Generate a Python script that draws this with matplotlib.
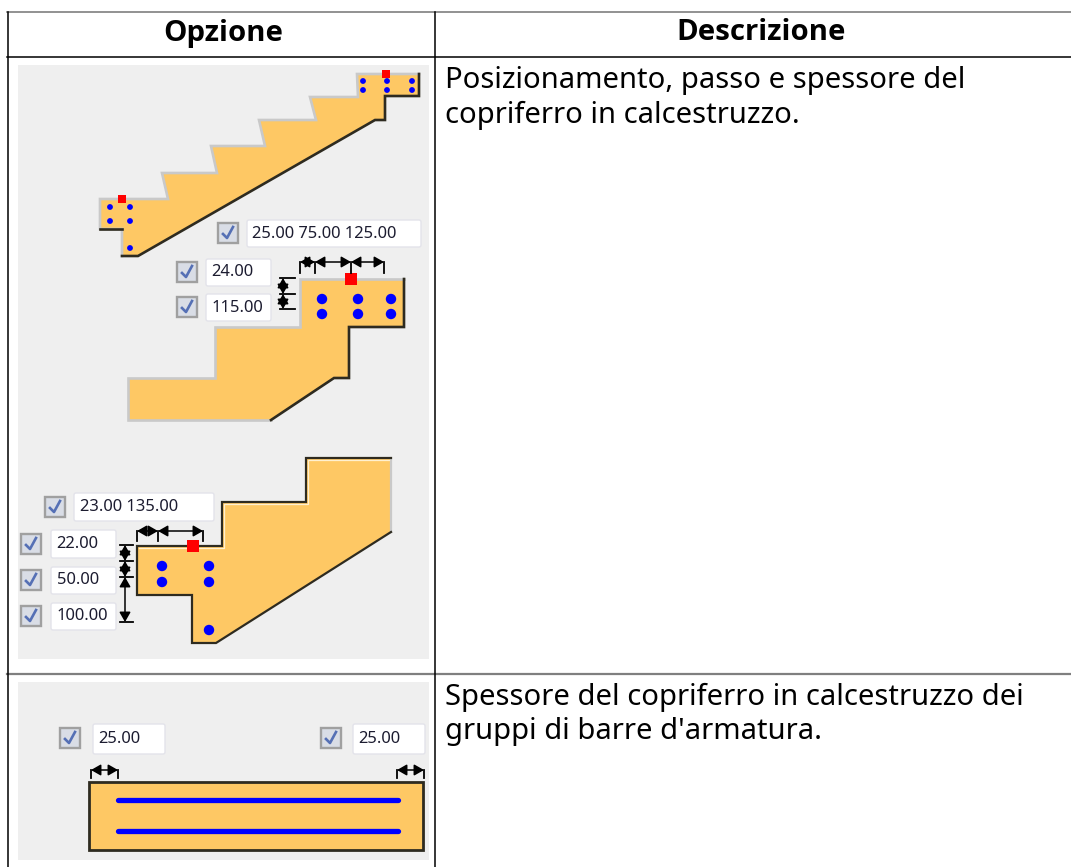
import matplotlib
matplotlib.use('Agg')
import matplotlib.pyplot as plt
import matplotlib.patches as patches

# table text
headers = ['Opzione', 'Descrizione']
row1_text = ['Posizionamento, passo e spessore del', 'copriferro in calcestruzzo.']
row2_text = ['Spessore del copriferro in calcestruzzo dei', "gruppi di barre d'armatura."]

# stair outlines, split in the light edges and the dark (shadow) edges
stair1_light = [(122, 256), (122, 229), (100, 229), (100, 199), (168, 199), (162, 173), (217, 173), (211, 146),
                (265, 146), (259, 120), (316, 120), (310, 97), (358, 97), (357, 74), (419, 74)]
stair1_dark = [(419, 74), (419, 96), (385, 96), (385, 120), (375, 120), (138, 256), (122, 256)]
stair1_extra = [(122, 229), (100, 229)]
stair1_dots = [(110, 207), (130, 207), (110, 221), (130, 221), (130, 248),
               (363, 81), (387, 81), (412, 81), (363, 90), (387, 90), (412, 90)]
stair1_red = [(122, 199), (386, 74)]

stair2_light = [(271, 420), (128, 420), (128, 378), (215, 378), (215, 327), (300, 327), (300, 279), (404, 279)]
stair2_dark = [(404, 279), (404, 327), (349, 327), (349, 378), (334, 378), (271, 420)]
stair2_dots = [(322, 299), (358, 299), (391, 299), (322, 314), (358, 314), (391, 314)]
stair2_red = [(351, 279)]

stair3_light = [(391, 458), (391, 532)]
stair3_dark = [(391, 532), (216, 643), (192, 643), (192, 595), (137, 595), (137, 546), (222, 546),
               (222, 502), (306, 502), (306, 458), (391, 458)]
stair3_glow = [(139, 548), (224, 548), (224, 504), (308, 504), (308, 460), (389, 460)]
stair3_dots = [(162, 566), (209, 566), (162, 582), (209, 582), (209, 630)]
stair3_red = [(193, 546)]

# input fields: x0, x1, y0, y1, checkbox x, checkbox y, label
fields = [
    (246, 422, 219, 248, 218, 223, '25.00 75.00 125.00'),
    (205, 272, 258, 287, 177, 262, '24.00'),
    (205, 272, 293, 322, 177, 297, '115.00'),
    (73, 215, 492, 522, 45, 497, '23.00 135.00'),
    (50, 117, 529, 559, 21, 534, '22.00'),
    (50, 117, 566, 595, 21, 570, '50.00'),
    (50, 117, 602, 631, 21, 606, '100.00'),
    (92, 166, 723, 755, 60, 728, '25.00'),
    (352, 426, 723, 755, 321, 728, '25.00'),
]

ORANGE = '#fec864'
PANEL = '#efefef'
DARK = '#2e2b20'
LIGHT = '#c9c9c9'
FONT = 'Noto Sans'

fig = plt.figure(figsize=(10.71, 8.67), dpi=100)
ax = fig.add_axes([0, 0, 1, 1])
ax.set_xlim(0, 1071)
ax.set_ylim(867, 0)
ax.axis('off')


def draw_stair(light, dark, dots, reds, dot_r, red_s, lw=1.9):
    outline = light + dark[1:]
    ax.add_patch(patches.Polygon(outline, closed=True, fc=ORANGE, ec='none', zorder=2))
    ax.plot(*zip(*light), color=LIGHT, lw=lw, zorder=3, solid_joinstyle='miter')
    ax.plot(*zip(*dark), color=DARK, lw=lw, zorder=3, solid_joinstyle='miter')
    for x, y in dots:
        ax.add_patch(patches.Circle((x, y), dot_r, fc='#0000ff', ec='none', zorder=4))
    for x, y in reds:
        ax.add_patch(patches.Rectangle((x - red_s / 2, y - red_s / 2), red_s, red_s, fc='#ff0000', ec='none', zorder=5))


def arrow(p0, p1):
    ax.annotate('', xy=p1, xytext=p0, zorder=6,
                arrowprops=dict(arrowstyle='<|-|>,head_length=0.42,head_width=0.24', color='black', lw=1.1,
                                shrinkA=0, shrinkB=0, mutation_scale=14))


def dim_h(y, xs, tick):
    for x in xs:
        ax.plot([x, x], [y, y + tick], color='black', lw=1.3, zorder=6)
    for a, b in zip(xs[:-1], xs[1:]):
        arrow((a, y), (b, y))


def dim_v(x, ys, left, right):
    for y in ys:
        ax.plot([left, right], [y, y], color='black', lw=1.3, zorder=6)
    for a, b in zip(ys[:-1], ys[1:]):
        arrow((x, a), (x, b))


def draw_field(x0, x1, y0, y1, cx, cy, label):
    ax.add_patch(patches.FancyBboxPatch((x0 + 1, y0 + 1), x1 - x0 - 2, y1 - y0 - 2, boxstyle='round,pad=0,rounding_size=2',
                                        fc='white', ec='#e3e3ea', lw=1, zorder=3))
    ax.add_patch(patches.Rectangle((cx, cy), 20, 20, fc='#d9dde6', ec='#a0a0a0', lw=1.7, zorder=3))
    ax.plot([cx + 5, cx + 9, cx + 15], [cy + 11, cy + 15, cy + 4], color='#5570b5', lw=1.9, zorder=4)
    ax.text(x0 + 6.5, (y0 + y1) / 2, label, fontsize=11.9, family=FONT, color='#1c1c30', va='center', ha='left', zorder=4)


# image panels
ax.add_patch(patches.Rectangle((18, 65), 411, 594, fc=PANEL, ec='none', zorder=1))
ax.add_patch(patches.Rectangle((18, 682), 411, 178, fc=PANEL, ec='none', zorder=1))

draw_stair(stair1_light, stair1_dark, stair1_dots, stair1_red, 2.9, 8)
ax.plot(*zip(*stair1_extra), color=DARK, lw=1.9, zorder=3)
draw_stair(stair2_light, stair2_dark, stair2_dots, stair2_red, 5.2, 12)
draw_stair(stair3_light, stair3_dark, stair3_dots, stair3_red, 5.2, 12, lw=1.6)
ax.plot(*zip(*stair3_glow), color='#fff0d0', lw=0.9, zorder=3)

dim_h(262, [300, 315, 351, 384], 11)
dim_v(283, [278, 294, 309], 280, 295)
dim_h(531, [137, 158, 203], 10)
dim_v(125, [545, 561, 577, 622], 120, 133)

# bottom rectangle with the two bars
ax.add_patch(patches.Rectangle((89, 782), 334, 68, fc=ORANGE, ec=DARK, lw=2, zorder=2))
ax.plot([118, 398], [800, 800], color='#0000ff', lw=3.8, zorder=4, solid_capstyle='round')
ax.plot([118, 398], [831, 831], color='#0000ff', lw=3.8, zorder=4, solid_capstyle='round')
dim_h(770, [91, 118], 8)
dim_h(770, [397, 424], 8)

for f in fields:
    draw_field(*f)

# table grid, there is no right border in the reference
ax.plot([7, 1071], [12, 12], color='#7f7f7f', lw=1.2, zorder=7)
ax.plot([7, 1071], [57, 57], color='black', lw=1.1, zorder=7)
ax.plot([7, 1071], [674, 674], color='#7f7f7f', lw=1.6, zorder=7)
ax.plot([7.5, 7.5], [12, 867], color='black', lw=1.1, zorder=7)
ax.plot([434.5, 434.5], [12, 867], color='black', lw=1.1, zorder=7)

ax.text(223.5, 33, headers[0], fontsize=21.2, family='Open Sans', weight='bold', ha='center', va='center', color='black')
ax.text(761.5, 33, headers[1], fontsize=21.2, family='Open Sans', weight='bold', ha='center', va='center', color='black')

for i, line in enumerate(row1_text):
    ax.text(445, 88 + i * 35, line, fontsize=21, family=FONT, ha='left', va='baseline', color='black')
for i, line in enumerate(row2_text):
    ax.text(445, 704.5 + i * 35, line, fontsize=21, family=FONT, ha='left', va='baseline', color='black')

fig.savefig('out.png', dpi=100)
